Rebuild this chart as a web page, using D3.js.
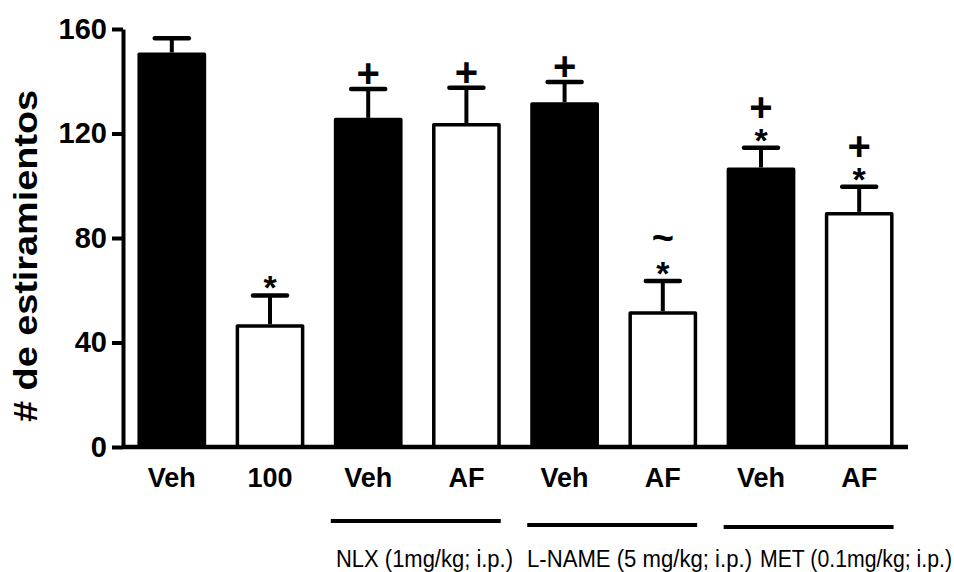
<!DOCTYPE html>
<html>
<head>
<meta charset="utf-8">
<script src="https://cdn.jsdelivr.net/npm/d3@7"></script>
<style>
  body { margin: 0; background: #fff; }
  svg { display: block; font-family: "Liberation Sans", Arial, sans-serif; }
</style>
</head>
<body>
<div id="chart"></div>
<script>
// data
const labels = ["Veh", "100", "Veh", "AF", "Veh", "AF", "Veh", "AF"];
const means  = [151, 47, 126, 124, 132, 52, 107, 90];
const sems   = [5.5, 11, 11, 13.5, 7.7, 11.5, 7.5, 9.6];
const marks  = [[], ["*"], ["+"], ["+"], ["+"], ["*", "~"], ["*", "+"], ["*", "+"]];
const yTicks = [0, 40, 80, 120, 160];
const groupNames = ["NLX (1mg/kg; i.p.)", "L-NAME (5 mg/kg; i.p.)", "MET (0.1mg/kg; i.p.)"];
const groupBars  = [[2, 3], [4, 5], [6, 7]];

const width = 954, height = 572;
const margin = { left: 123, right: 46, top: 29, bottom: 125 };

const data = labels.map((l, i) => ({ i, label: l, mean: means[i], sem: sems[i], marks: marks[i] }));

const svg = d3.select("#chart").append("svg")
  .attr("width", width)
  .attr("height", height);

/* SCALES */
const x = d3.scaleBand()
  .domain(data.map(d => d.i))
  .range([margin.left, width - margin.right])
  .paddingInner(0.3)
  .paddingOuter(0.147);

const y = d3.scaleLinear()
  .domain([0, 160])
  .range([height - margin.bottom, margin.top]);

/* BARS */
const sw = 3.5;
svg.selectAll("rect.bar")
  .data(data)
  .join("rect")
  .attr("class", "bar")
  .attr("x", d => x(d.i) + sw / 2)
  .attr("y", d => y(d.mean) + sw / 2)
  .attr("width", x.bandwidth() - sw)
  .attr("height", d => y(0) - y(d.mean) - sw / 2)
  .attr("fill", d => d.label === "Veh" ? "#000" : "#fff")
  .attr("stroke", "#000")
  .attr("stroke-width", sw)
  .attr("stroke-linejoin", "round");

// error bars (upper only)
const capW = 34;
const err = svg.selectAll("g.err")
  .data(data)
  .join("g")
  .attr("class", "err");

err.append("line")
  .attr("x1", d => x(d.i) + x.bandwidth() / 2)
  .attr("x2", d => x(d.i) + x.bandwidth() / 2)
  .attr("y1", d => y(d.mean))
  .attr("y2", d => y(d.mean + d.sem))
  .attr("stroke", "#000")
  .attr("stroke-width", 4);

err.append("line")
  .attr("x1", d => x(d.i) + x.bandwidth() / 2 - capW / 2)
  .attr("x2", d => x(d.i) + x.bandwidth() / 2 + capW / 2)
  .attr("y1", d => y(d.mean + d.sem))
  .attr("y2", d => y(d.mean + d.sem))
  .attr("stroke", "#000")
  .attr("stroke-width", 4.5)
  .attr("stroke-linecap", "round");

// significance marks, stacked above the cap
const markStyle = {
  "*": { size: 34, dy: 20 },
  "+": { size: 40, dy: 14 },
  "~": { size: 38, dy: 11 }
};
const markOffsets = [16, 41];

data.forEach(d => {
  d.marks.forEach((m, k) => {
    const st = markStyle[m];
    svg.append("text")
      .attr("x", x(d.i) + x.bandwidth() / 2)
      .attr("y", y(d.mean + d.sem) - markOffsets[k] + st.dy)
      .attr("text-anchor", "middle")
      .attr("font-weight", "bold")
      .attr("font-size", st.size)
      .attr("fill", "#000")
      .text(m);
  });
});

/* AXES */
const yAxis = d3.axisLeft(y)
  .tickValues(yTicks)
  .tickSize(11)
  .tickPadding(5)
  .tickSizeOuter(0);

const yAxisGroup = svg.append("g")
  .attr("transform", `translate(${margin.left}, 0)`)
  .call(yAxis);

yAxisGroup.select(".domain")
  .attr("stroke-width", 4);
yAxisGroup.selectAll(".tick line")
  .attr("stroke-width", 4);
yAxisGroup.selectAll(".tick text")
  .attr("font-size", 29)
  .attr("font-weight", "bold")
  .attr("font-family", "Liberation Sans, Arial, sans-serif")
  .attr("fill", "#000");

// x axis line
svg.append("line")
  .attr("x1", margin.left)
  .attr("x2", width - margin.right)
  .attr("y1", y(0))
  .attr("y2", y(0))
  .attr("stroke", "#000")
  .attr("stroke-width", 4.5);

// category labels
svg.selectAll("text.xlab")
  .data(data)
  .join("text")
  .attr("class", "xlab")
  .attr("x", d => x(d.i) + x.bandwidth() / 2)
  .attr("y", y(0) + 40)
  .attr("text-anchor", "middle")
  .attr("font-size", 27)
  .attr("font-weight", "bold")
  .attr("fill", "#000")
  .text(d => d.label);

// treatment group lines and labels
const lineY = [521, 525, 527];
const labelX = [336, 527, 760];
const labelW = [177, 225, 192];
groupBars.forEach((g, k) => {
  svg.append("line")
    .attr("x1", x(g[0]) - 3)
    .attr("x2", x(g[1]) + x.bandwidth())
    .attr("y1", lineY[k])
    .attr("y2", lineY[k])
    .attr("stroke", "#000")
    .attr("stroke-width", 4);
  svg.append("text")
    .attr("x", labelX[k])
    .attr("y", 567)
    .attr("font-size", 23)
    .attr("textLength", labelW[k])
    .attr("lengthAdjust", "spacingAndGlyphs")
    .attr("fill", "#000")
    .text(groupNames[k]);
});

// y axis title
svg.append("text")
  .attr("transform", `translate(37, 256) rotate(-90)`)
  .attr("text-anchor", "middle")
  .attr("font-size", 34)
  .attr("font-weight", "bold")
  .attr("textLength", 332)
  .attr("lengthAdjust", "spacingAndGlyphs")
  .attr("fill", "#000")
  .text("# de estiramientos");
</script>
</body>
</html>
